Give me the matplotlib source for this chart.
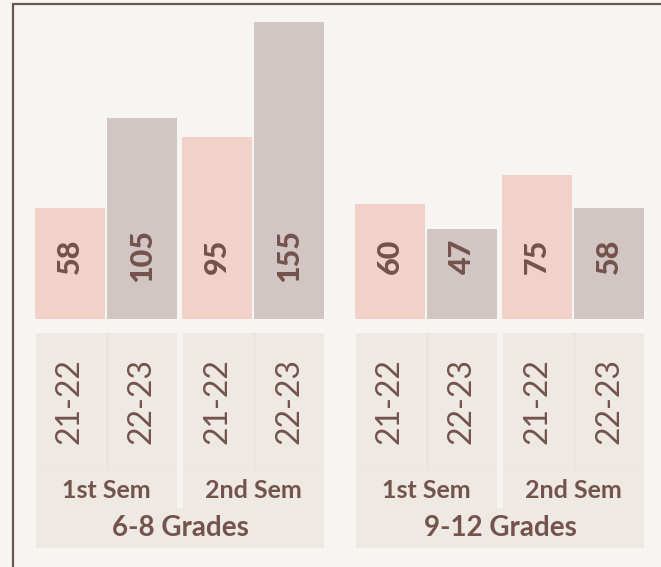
import matplotlib.pyplot as plt
from matplotlib.patches import Rectangle

groups = ['6-8 Grades', '9-12 Grades']
semesters = ['1st Sem', '2nd Sem']
years = ['21-22', '22-23']
values = [58, 105, 95, 155, 60, 47, 75, 58]

bg = '#F7F5F1'
ink = '#74534D'
bar_colors = {'21-22': '#F2D1C8', '22-23': '#D1C6C4'}
panel = '#EEE9E2'

plt.rcParams['font.family'] = ['Lato', 'DejaVu Sans']

W, H = 661, 567
fig = plt.figure(figsize=(W / 100, H / 100), dpi=100, facecolor=bg)

# layout in pixels
base_y = 319
px_per_unit = 1.916
x0, pitch, bar_w = 35, 72, 70
sem_off, grp_off = 147, 320

# overlay axes in pixel coordinates for panels / frame
lab = fig.add_axes([0, 0, 1, 1])
lab.set_xlim(0, W)
lab.set_ylim(H, 0)
lab.axis('off')
lab.set_facecolor(bg)

# bar axes: y=0 at the baseline pixel row
ax = fig.add_axes([0, (H - base_y) / H, 1, base_y / H])
ax.set_xlim(0, W)
ax.set_ylim(0, base_y / px_per_unit)
ax.axis('off')
ax.patch.set_alpha(0)

lefts = []
for g in range(len(groups)):
    for s in range(len(semesters)):
        for y in range(len(years)):
            lefts.append(x0 + g * grp_off + s * sem_off + y * pitch)

cols = [bar_colors[years[i % 2]] for i in range(len(values))]
ax.bar(lefts, values, width=bar_w, align='edge', color=cols, edgecolor='none')
label_v = (base_y - 256) / px_per_unit
for lx, v in zip(lefts, values):
    ax.text(lx + bar_w / 2, label_v, str(v), rotation=90, ha='center', va='center',
            fontsize=22, fontweight='black', color=ink)

# frame (only left and top edge visible)
lab.plot([12.5, 12.5], [3, H], color='#6E5650', lw=1.6, solid_capstyle='butt')
lab.plot([12, W], [3.5, 3.5], color='#6E5650', lw=1.6, solid_capstyle='butt')

# label panels
row_top, row_mid, row_sem, row_bot = 333, 470, 508, 548
for g, gname in enumerate(groups):
    gx = x0 + 1 + g * grp_off
    lab.add_patch(Rectangle((gx, row_sem), 288, row_bot - row_sem, color=panel, lw=0))
    for s, sname in enumerate(semesters):
        sx = gx + s * sem_off
        lab.add_patch(Rectangle((sx, row_top), 2 * pitch - 3, row_sem - row_top, color=panel, lw=0))
        lab.plot([sx, sx + 2 * pitch - 3], [row_mid, row_mid], color='#ECE7E0', lw=0.8)
        lab.plot([sx + pitch - 1, sx + pitch - 1], [row_top, row_mid], color='#E6E0D8', lw=0.8)
        for y, yname in enumerate(years):
            cx = sx + y * pitch + bar_w / 2 - 1
            lab.text(cx, 401, yname, rotation=90, ha='center', va='center',
                     fontsize=23, fontweight='normal', color=ink)
        lab.text(sx + pitch - 2, 490, sname, ha='center', va='center',
                 fontsize=18, fontweight='bold', color=ink)
    lab.text(gx + 144, 528, gname, ha='center', va='center',
             fontsize=20, fontweight='bold', color=ink)

fig.savefig('out.png', dpi=100, facecolor=bg)
